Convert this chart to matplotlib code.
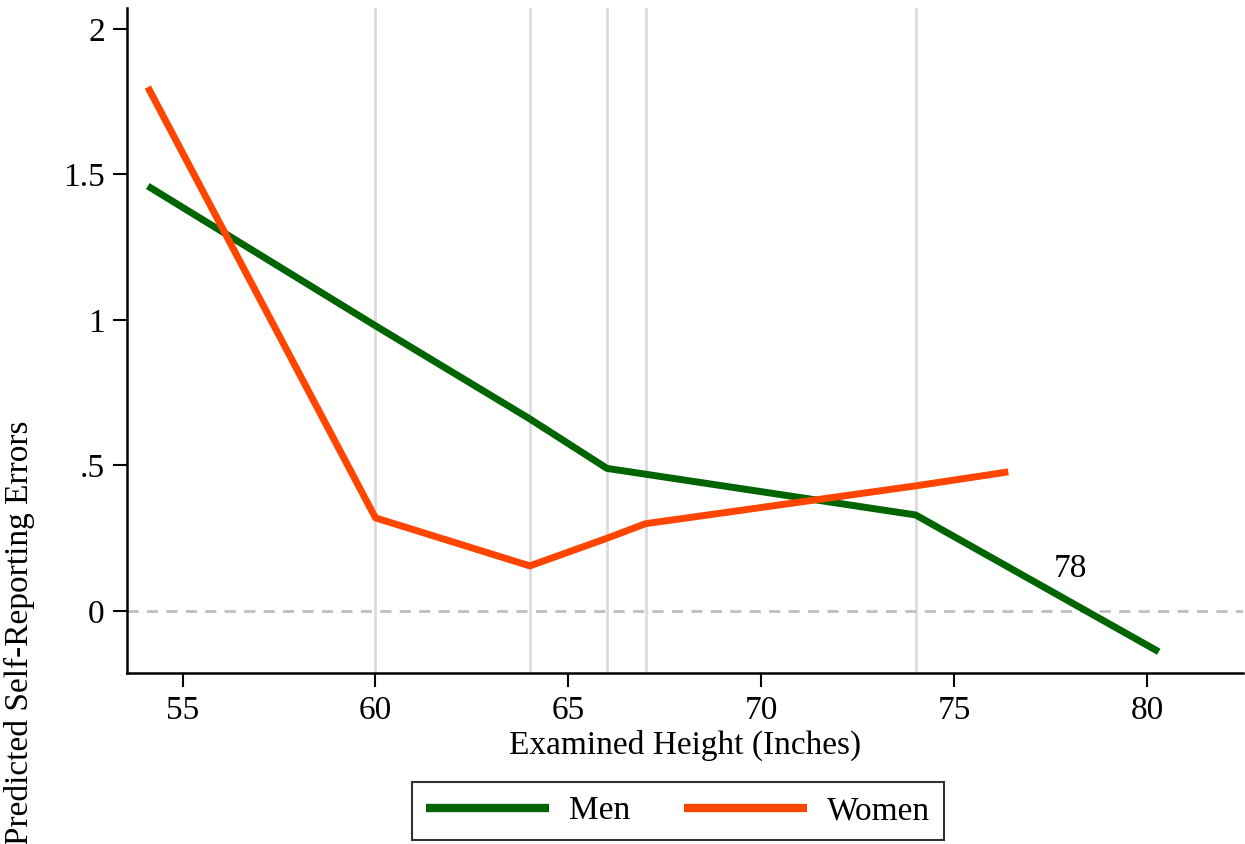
import numpy as np
import matplotlib
matplotlib.use("Agg")
import matplotlib.pyplot as plt

# Data
men_x = [54.1, 60, 64, 66, 67, 74, 80.3]
men_y = [1.46, 0.98, 0.66, 0.49, 0.47, 0.33, -0.14]
women_x = [54.1, 60, 64, 66, 67, 74, 76.4]
women_y = [1.80, 0.32, 0.155, 0.25, 0.30, 0.43, 0.478]
knots = [60, 64, 66, 67, 74]
x_ticks = [55, 60, 65, 70, 75, 80]
y_ticks = [0, 0.5, 1, 1.5, 2]
y_ticklabels = ["0", ".5", "1", "1.5", "2"]

plt.rcParams["font.family"] = ["Liberation Serif", "DejaVu Serif"]
plt.rcParams["font.size"] = 24

fig = plt.figure(figsize=(12.45, 8.44), dpi=100)
ax = fig.add_axes([0.102, 0.2026, 0.896, 0.788])

for k in knots:
    ax.axvline(k, color="#dcdcdc", linewidth=2, zorder=1)
ax.axhline(0, color="#bfbfbf", linewidth=2, linestyle=(0, (4, 3)), zorder=1)

ax.plot(men_x, men_y, color="#006400", linewidth=5, label="Men", zorder=3,
        solid_capstyle="butt")
ax.plot(women_x, women_y, color="#ff4500", linewidth=5, label="Women", zorder=3,
        solid_capstyle="butt")
ax.text(78, 0.145, "78", ha="center", va="center")

ax.set_xlim(53.56, 82.47)
ax.set_ylim(-0.213, 2.072)
ax.set_xticks(x_ticks)
ax.set_yticks(y_ticks)
ax.set_yticklabels(y_ticklabels)
ax.tick_params(direction="out", length=10, width=1.5, pad=6)
ax.spines["top"].set_visible(False)
ax.spines["right"].set_visible(False)
ax.spines["left"].set_linewidth(1.8)
ax.spines["bottom"].set_linewidth(1.8)
ax.set_xlabel("Examined Height (Inches)", labelpad=3)

fig.text(0.016, 0.25, "Predicted Self-Reporting Errors", rotation=90,
         ha="center", va="center")

leg = fig.legend(loc="center", bbox_to_anchor=(0.5445, 0.039), ncol=2,
                 frameon=True, fancybox=False, edgecolor="black",
                 handlelength=3.7, columnspacing=1.6, handletextpad=0.6,
                 borderpad=0.42, borderaxespad=0)
leg.get_frame().set_linewidth(1.5)
for h in leg.get_lines():
    h.set_linewidth(6)

fig.savefig("out.png", dpi=100)
